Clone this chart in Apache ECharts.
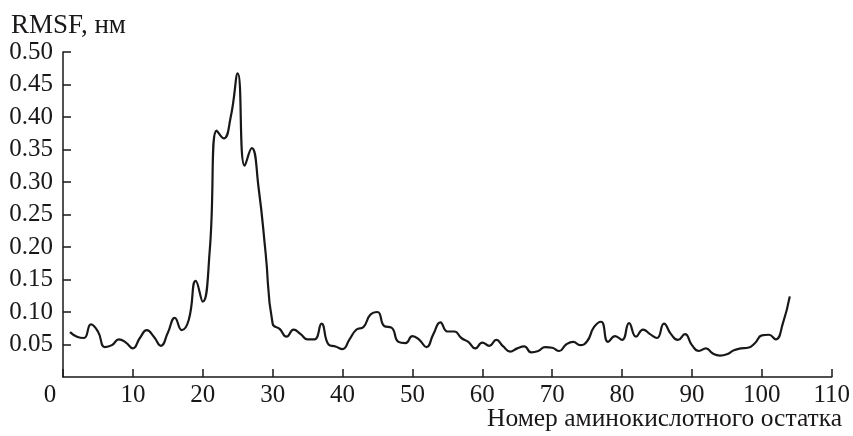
<!DOCTYPE html>
<html>
<head>
<meta charset="utf-8">
<script src="https://cdn.jsdelivr.net/npm/echarts@6/dist/echarts.min.js"></script>
<style>
  html, body { margin: 0; padding: 0; background: #fff; }
  #chart { width: 853px; height: 436px; }
</style>
</head>
<body>
<div id="chart"></div>
<script>
// residue numbers and RMSF values (nm)
const residues = [];
for (let i = 1; i <= 104; i++) residues.push(i);

const rmsf = [
  0.069, 0.062, 0.060, 0.081, 0.070, 0.046, 0.049, 0.058, 0.053, 0.044,
  0.060, 0.072, 0.062, 0.048, 0.068, 0.091, 0.072, 0.088, 0.148, 0.116,
  0.195, 0.379, 0.367, 0.400, 0.467, 0.325, 0.352, 0.290, 0.190, 0.082,
  0.074, 0.062, 0.073, 0.066, 0.058, 0.058, 0.082, 0.050, 0.047, 0.043,
  0.058, 0.073, 0.077, 0.096, 0.100, 0.078, 0.076, 0.054, 0.052, 0.063,
  0.057, 0.046, 0.066, 0.084, 0.070, 0.070, 0.060, 0.054, 0.044, 0.053,
  0.048, 0.057, 0.047, 0.039, 0.044, 0.047, 0.038, 0.040, 0.046, 0.045,
  0.040, 0.050, 0.054, 0.049, 0.055, 0.077, 0.085, 0.054, 0.063, 0.057,
  0.083, 0.062, 0.073, 0.066, 0.060, 0.082, 0.066, 0.057, 0.066, 0.049,
  0.040, 0.044, 0.036, 0.033, 0.035, 0.041, 0.044, 0.045, 0.052, 0.064,
  0.065, 0.058, 0.082, 0.124
];

const xMin = 0, xMax = 110, xStep = 10;
const yMin = 0, yMax = 0.5, yStep = 0.05;

const yTitle = 'RMSF, нм';
const xTitle = 'Номер аминокислотного остатка';

const font = 'Liberation Serif';
const ink = '#1a1718';

const chart = echarts.init(document.getElementById('chart'));
chart.setOption({
  animation: false,
  backgroundColor: '#fff',
  title: [
    { text: yTitle, left: 11, top: 12, padding: 0,
      textStyle: { fontFamily: font, fontSize: 27, fontWeight: 'normal', color: ink } },
    { text: xTitle, right: 11, top: 406, padding: 0,
      textStyle: { fontFamily: font, fontSize: 25.5, fontWeight: 'normal', color: ink } }
  ],
  grid: { left: 63, right: 20, top: 52, bottom: 59 },
  xAxis: {
    type: 'value',
    min: xMin, max: xMax, interval: xStep,
    axisLine: { lineStyle: { color: ink, width: 1.5 } },
    axisTick: { inside: true, length: 8, lineStyle: { color: ink, width: 1.5 } },
    splitLine: { show: false },
    axisLabel: {
      margin: 6, fontFamily: font, fontSize: 25, color: ink,
      formatter: v => v === 0 ? '{z|0}' : String(v),
      rich: { z: { fontFamily: font, fontSize: 25, color: ink, padding: [0, 26, 0, 0] } }
    }
  },
  yAxis: {
    type: 'value',
    min: yMin, max: yMax, interval: yStep,
    axisLine: { show: true, lineStyle: { color: ink, width: 1.5 } },
    axisTick: { show: true, inside: true, length: 8, lineStyle: { color: ink, width: 1.5 } },
    splitLine: { show: false },
    axisLabel: {
      margin: 10, fontFamily: font, fontSize: 25, color: ink,
      showMinLabel: false,
      formatter: v => v.toFixed(2)
    }
  },
  series: [{
    type: 'line',
    data: residues.map((r, i) => [r, rmsf[i]]),
    smooth: 0.5,
    symbol: 'none',
    lineStyle: { color: ink, width: 2.2 }
  }]
});
</script>
</body>
</html>
